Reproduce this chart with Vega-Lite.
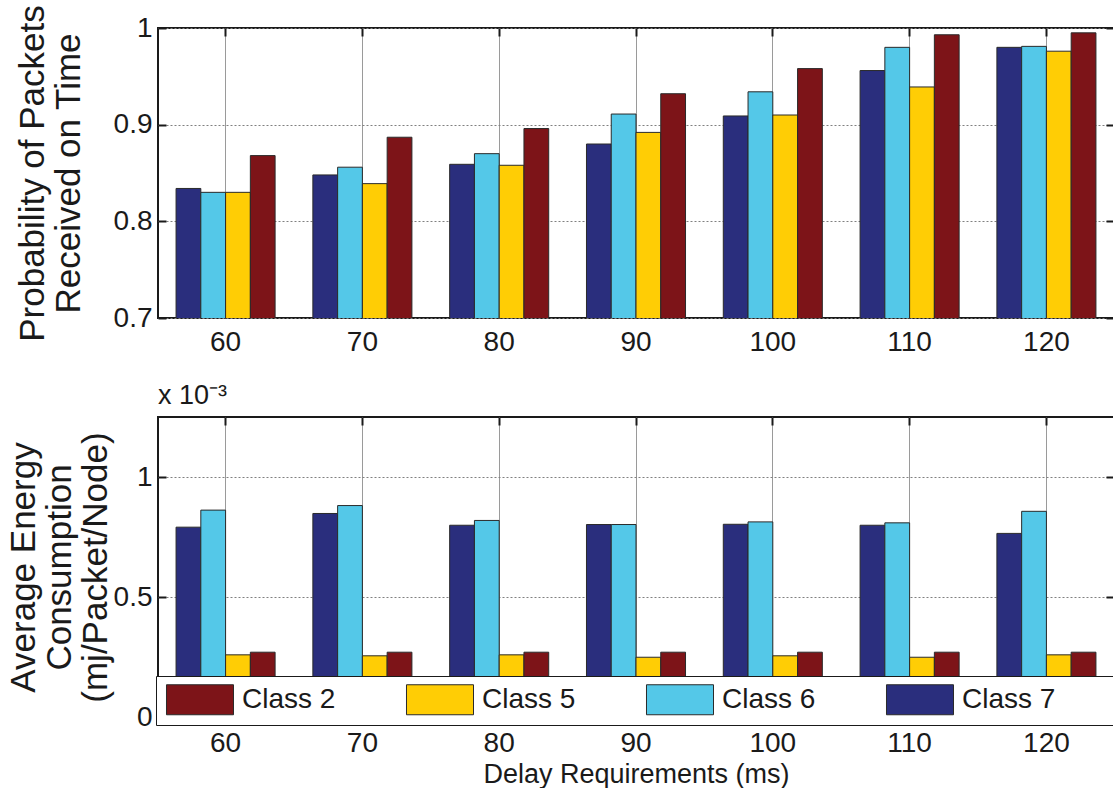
{
  "$schema": "https://vega.github.io/schema/vega-lite/v6.json",
  "background": "white",
  "padding": {"left": 5, "top": 3, "right": 1, "bottom": 0},
  "spacing": 24,
  "datasets": {
    "d": [
      {"delay": 60, "cls": "Class 7", "prob": 0.834, "energy": 0.791},
      {"delay": 60, "cls": "Class 6", "prob": 0.830, "energy": 0.862},
      {"delay": 60, "cls": "Class 5", "prob": 0.830, "energy": 0.259},
      {"delay": 60, "cls": "Class 2", "prob": 0.868, "energy": 0.270},
      {"delay": 70, "cls": "Class 7", "prob": 0.848, "energy": 0.848},
      {"delay": 70, "cls": "Class 6", "prob": 0.856, "energy": 0.881},
      {"delay": 70, "cls": "Class 5", "prob": 0.839, "energy": 0.255},
      {"delay": 70, "cls": "Class 2", "prob": 0.887, "energy": 0.270},
      {"delay": 80, "cls": "Class 7", "prob": 0.859, "energy": 0.799},
      {"delay": 80, "cls": "Class 6", "prob": 0.870, "energy": 0.819},
      {"delay": 80, "cls": "Class 5", "prob": 0.858, "energy": 0.259},
      {"delay": 80, "cls": "Class 2", "prob": 0.896, "energy": 0.270},
      {"delay": 90, "cls": "Class 7", "prob": 0.880, "energy": 0.802},
      {"delay": 90, "cls": "Class 6", "prob": 0.911, "energy": 0.802},
      {"delay": 90, "cls": "Class 5", "prob": 0.892, "energy": 0.249},
      {"delay": 90, "cls": "Class 2", "prob": 0.932, "energy": 0.270},
      {"delay": 100, "cls": "Class 7", "prob": 0.909, "energy": 0.803},
      {"delay": 100, "cls": "Class 6", "prob": 0.934, "energy": 0.813},
      {"delay": 100, "cls": "Class 5", "prob": 0.910, "energy": 0.255},
      {"delay": 100, "cls": "Class 2", "prob": 0.958, "energy": 0.270},
      {"delay": 110, "cls": "Class 7", "prob": 0.956, "energy": 0.799},
      {"delay": 110, "cls": "Class 6", "prob": 0.980, "energy": 0.809},
      {"delay": 110, "cls": "Class 5", "prob": 0.939, "energy": 0.249},
      {"delay": 110, "cls": "Class 2", "prob": 0.993, "energy": 0.270},
      {"delay": 120, "cls": "Class 7", "prob": 0.980, "energy": 0.765},
      {"delay": 120, "cls": "Class 6", "prob": 0.981, "energy": 0.857},
      {"delay": 120, "cls": "Class 5", "prob": 0.976, "energy": 0.259},
      {"delay": 120, "cls": "Class 2", "prob": 0.995, "energy": 0.270}
    ]
  },
  "data": {"name": "d"},
  "vconcat": [
    {
      "width": 956,
      "height": 290,
      "layer": [
        {
          "mark": {"type": "bar", "stroke": "#2a2a2a", "strokeWidth": 1, "clip": true},
          "encoding": {
            "x": {
              "field": "delay", "type": "ordinal",
              "scale": {"paddingInner": 0.276, "paddingOuter": 0.132},
              "axis": {"orient": "bottom", "title": null, "labelAngle": 0, "labelPadding": 18, "tickSize": -8, "bandPosition": 0.5, "grid": true, "gridColor": "#9a9a9a", "gridWidth": 1}
            },
            "xOffset": {"field": "cls", "sort": ["Class 7", "Class 6", "Class 5", "Class 2"], "scale": {"paddingInner": 0, "paddingOuter": 0}},
            "y": {
              "field": "prob", "type": "quantitative",
              "scale": {"domain": [0.7, 1], "zero": false, "nice": false},
              "axis": {"values": [0.7, 0.8, 0.9, 1], "format": "~g", "labelPadding": 14, "tickSize": -8, "grid": true, "gridDash": [2, 2], "gridColor": "#808080",
                       "title": ["Probability of Packets", "Received on Time"], "titlePadding": 27}
            },
            "color": {
              "field": "cls", "type": "nominal",
              "scale": {"domain": ["Class 2", "Class 5", "Class 6", "Class 7"], "range": ["#7d1418", "#ffcd05", "#54c8e8", "#2a2e7d"]},
              "legend": null
            }
          }
        },
        {
          "mark": {"type": "tick", "opacity": 0},
          "encoding": {
            "x": {"field": "delay", "type": "ordinal", "axis": {"orient": "top", "title": null, "labels": false, "grid": false, "tickSize": -8, "bandPosition": 0.5}},
            "y": {"field": "prob", "type": "quantitative", "axis": {"orient": "right", "title": null, "labels": false, "grid": false, "tickSize": -8, "values": [0.7, 0.8, 0.9, 1]}}
          }
        }
      ],
      "resolve": {"axis": {"x": "independent", "y": "independent"}}
    },
    {
      "width": 956,
      "height": 300,
      "title": {"text": "x 10⁻³", "anchor": "start", "frame": "group", "font": "Liberation Sans", "fontSize": 27, "fontWeight": "normal", "color": "#1a1a1a", "offset": 6},
      "layer": [
        {
          "mark": {"type": "bar", "stroke": "#2a2a2a", "strokeWidth": 1, "clip": true},
          "encoding": {
            "x": {
              "field": "delay", "type": "ordinal",
              "scale": {"paddingInner": 0.276, "paddingOuter": 0.132},
              "axis": {"orient": "bottom", "title": "Delay Requirements (ms)", "titlePadding": 4, "labelAngle": 0, "labelPadding": 20, "tickSize": -8, "bandPosition": 0.5, "grid": true, "gridColor": "#9a9a9a", "gridWidth": 1,
                       "titleFontSize": 27}
            },
            "xOffset": {"field": "cls", "sort": ["Class 7", "Class 6", "Class 5", "Class 2"], "scale": {"paddingInner": 0, "paddingOuter": 0}},
            "y": {
              "field": "energy", "type": "quantitative",
              "scale": {"domain": [0, 1.25], "nice": false},
              "axis": {"values": [0, 0.5, 1], "format": "~g", "labelPadding": 14, "tickSize": -8, "grid": true, "gridDash": [2, 2], "gridColor": "#808080",
                       "title": ["Average Energy", "Consumption", "(mj/Packet/Node)"], "titlePadding": 0}
            },
            "color": {
              "field": "cls", "type": "nominal",
              "scale": {"domain": ["Class 2", "Class 5", "Class 6", "Class 7"], "range": ["#7d1418", "#ffcd05", "#54c8e8", "#2a2e7d"]},
              "legend": {
                "orient": "none", "legendX": -2, "legendY": 259, "direction": "horizontal", "columns": 4, "title": null,
                "symbolType": "M-0.867,-1H3.6V1H-0.867ZM14.33,0", "symbolSize": 900, "symbolStrokeColor": "#2a2a2a", "symbolStrokeWidth": 1, "symbolOpacity": 1,
                "labelOffset": 47, "columnPadding": 7, "padding": 8, "strokeColor": "#1a1a1a", "fillColor": "white",
                "labelFont": "Liberation Sans", "labelFontSize": 28, "labelColor": "#1a1a1a", "labelLimit": 400
              }
            }
          }
        },
        {
          "mark": {"type": "tick", "opacity": 0},
          "encoding": {
            "x": {"field": "delay", "type": "ordinal", "axis": {"orient": "top", "title": null, "labels": false, "grid": false, "tickSize": -8, "bandPosition": 0.5}},
            "y": {"field": "energy", "type": "quantitative", "axis": {"orient": "right", "title": null, "labels": false, "grid": false, "tickSize": -8, "values": [0, 0.5, 1]}}
          }
        }
      ],
      "resolve": {"axis": {"x": "independent", "y": "independent"}, "legend": {"color": "independent"}}
    }
  ],
  "resolve": {"legend": {"color": "independent"}},
  "config": {
    "view": {"stroke": "#1a1a1a", "strokeWidth": 2},
    "axis": {
      "domain": false,
      "tickColor": "#1a1a1a", "tickWidth": 2,
      "labelFont": "Liberation Sans", "labelFontSize": 28, "labelColor": "#1a1a1a",
      "titleFont": "Liberation Sans", "titleFontSize": 35, "titleFontWeight": "normal", "titleColor": "#1a1a1a", "titleLineHeight": 36
    }
  }
}
